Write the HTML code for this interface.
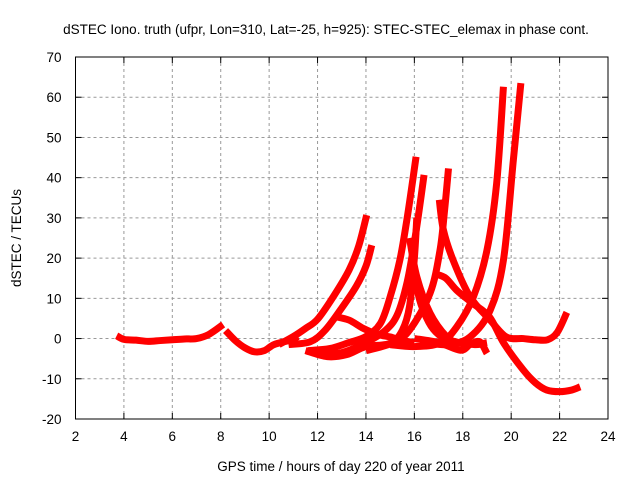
<!DOCTYPE html>
<html><head><meta charset="utf-8"><style>
body{margin:0;background:#fff}
svg{display:block;font-family:"Liberation Sans",sans-serif}
</style></head><body>
<svg id="c" width="640" height="480">
<text x="326" y="34" font-size="13.5" text-anchor="middle">dSTEC Iono. truth (ufpr, Lon=310, Lat=-25, h=925): STEC-STEC_elemax in phase cont.</text>
<text x="341" y="471" font-size="13.5" text-anchor="middle">GPS time / hours of day 220 of year 2011</text>
<text transform="translate(21,238) rotate(-90)" font-size="13.5" text-anchor="middle">dSTEC  / TECUs</text>
<g id="grid"></g><g id="series"></g><g id="axes"></g>
</svg>
<script>
const xTicks=[2,4,6,8,10,12,14,16,18,20,22,24];
const yTicks=[-20,-10,0,10,20,30,40,50,60,70];
const s1=[[3.7,0.7],[4,-0.2],[4.5,-0.4],[5,-0.7],[5.5,-0.5],[6,-0.3],[6.5,-0.1],[7,0],[7.5,1],[8.1,3.5]];
const s2=[[8.2,2],[8.6,-0.5],[9,-2.3],[9.4,-3.3],[9.8,-3],[10.2,-1.5],[10.8,-0.5],[11.2,0.5]];
const s3=[[10.4,-1.5],[11,0.5],[11.5,2.5],[12,4.8],[12.65,10.4],[13.3,17],[13.7,23],[14.03,30.7]];
const s4=[[10.8,-1.5],[11.7,-0.8],[12.3,2],[12.93,7],[13.6,13],[14,18],[14.24,23.2]];
const s5=[[11.5,-3],[12.4,-4.5],[13.2,-4],[14,-2],[15,-1.2],[15.5,2],[15.8,8],[16,20],[16.1,30]];
const s6=[[11.6,-3],[12.5,-2.5],[13.3,-1],[14,0.5],[14.6,3.8],[15,10.4],[15.4,19.5],[15.69,29.5],[15.9,38],[16.07,45.2]];
const s7=[[12,-4],[13,-3.5],[14,-1],[14.8,2],[15.3,6],[15.7,14],[16,24],[16.2,32],[16.4,40.7]];
const s8=[[12.7,5.5],[13.3,4.6],[13.9,2.5],[14.5,1],[15,0.4],[15.5,-0.5],[16,-1]];
const s9=[[15.8,25],[16.1,15.4],[16.65,6.3],[17.34,0.4],[17.8,-1],[18.2,-1.5]];
const s10=[[15.9,20],[16.2,10],[16.6,4],[17,1],[17.5,-0.5],[18.5,-1.5],[19,-1]];
const s11=[[14,-3],[15.1,-1.1],[15.8,2.1],[16.65,11.3],[17.06,22],[17.25,32],[17.41,42.3]];
const s12=[[17.03,34.5],[17.2,27],[17.6,19.5],[18.3,10.4],[19.13,4.6],[19.8,0.4],[20.5,0],[21,-0.3],[21.5,-0.3],[21.9,1.5],[22.3,6.5]];
const s13=[[16.9,16],[17.3,15],[17.75,12],[18.4,8.8],[19.1,5.4],[19.7,-1.2],[20.5,-7.8],[21,-11],[21.47,-12.8],[22,-13.2],[22.5,-12.8],[22.85,-12]];
const s14=[[15,-1.5],[16,-2],[17.06,-1.1],[17.75,2.9],[18.44,10.4],[19,22],[19.4,38.6],[19.68,62.6]];
const s15=[[16.5,-1],[17.4,-1.5],[18.3,0.4],[19.13,7],[19.68,19.5],[20.09,44.4],[20.4,63.5]];
const s16=[[16,0],[17,-1],[17.9,-2.9],[18.3,-1.5],[18.7,-0.8],[19,-3.7]];
const allSeries=[s1,s2,s3,s4,s5,s6,s7,s8,s9,s10,s11,s12,s13,s14,s15,s16];

const L=75.5,R=608,T=57,B=419;
const X=v=>L+(v-2)/22*(R-L);
const Y=v=>B-(v+20)/90*(B-T);
const NS="http://www.w3.org/2000/svg";
function mk(tag,attrs,parent){const e=document.createElementNS(NS,tag);for(const k in attrs)e.setAttribute(k,attrs[k]);parent.appendChild(e);return e;}
function smooth(pts){
  let d='M'+pts[0][0]+','+pts[0][1];
  for(let i=0;i<pts.length-1;i++){
    const p0=pts[i-1]||pts[i],p1=pts[i],p2=pts[i+1],p3=pts[i+2]||p2;
    const c1=[p1[0]+(p2[0]-p0[0])/6,p1[1]+(p2[1]-p0[1])/6];
    const c2=[p2[0]-(p3[0]-p1[0])/6,p2[1]-(p3[1]-p1[1])/6];
    d+=' C'+c1[0]+','+c1[1]+' '+c2[0]+','+c2[1]+' '+p2[0]+','+p2[1];
  }
  return d;
}
const grid=document.getElementById('grid'),ser=document.getElementById('series'),ax=document.getElementById('axes');
xTicks.forEach(t=>{
  if(t>2&&t<24){const g=mk('line',{x1:X(t),x2:X(t),y1:T,y2:B,stroke:'#999','stroke-dasharray':'3,3','stroke-width':1},grid);
  
  }
  const a=mk('line',{x1:X(t),x2:X(t),y1:B,y2:B-6,stroke:'#000'},ax);
  
  
  mk('line',{x1:X(t),x2:X(t),y1:T,y2:T+6,stroke:'#000'},ax);
  const l=mk('text',{x:X(t),y:B+22,'font-size':13.5,'text-anchor':'middle'},ax);l.textContent=t;
  
  
});
yTicks.forEach(t=>{
  if(t>-20&&t<70){const g=mk('line',{x1:L,x2:R,y1:Y(t),y2:Y(t),stroke:'#999','stroke-dasharray':'3,3','stroke-width':1},grid);
  
  }
  const a=mk('line',{x1:L,x2:L+6,y1:Y(t),y2:Y(t),stroke:'#000'},ax);
  
  
  mk('line',{x1:R,x2:R-6,y1:Y(t),y2:Y(t),stroke:'#000'},ax);
  const l=mk('text',{x:L-14,y:Y(t)+5,'font-size':13.5,'text-anchor':'end'},ax);l.textContent=t;
  
  
});
const fr=mk('rect',{x:L,y:T,width:R-L,height:B-T,fill:'none',stroke:'#000'},ax);


allSeries.forEach(s=>{
  const p=mk('path',{d:smooth(s.map(d=>[X(d[0]),Y(d[1])])),fill:'none',stroke:'#f00','stroke-width':7,'stroke-linejoin':'round','stroke-linecap':'butt'},ser);
  
  
});
</script>
</body></html>
